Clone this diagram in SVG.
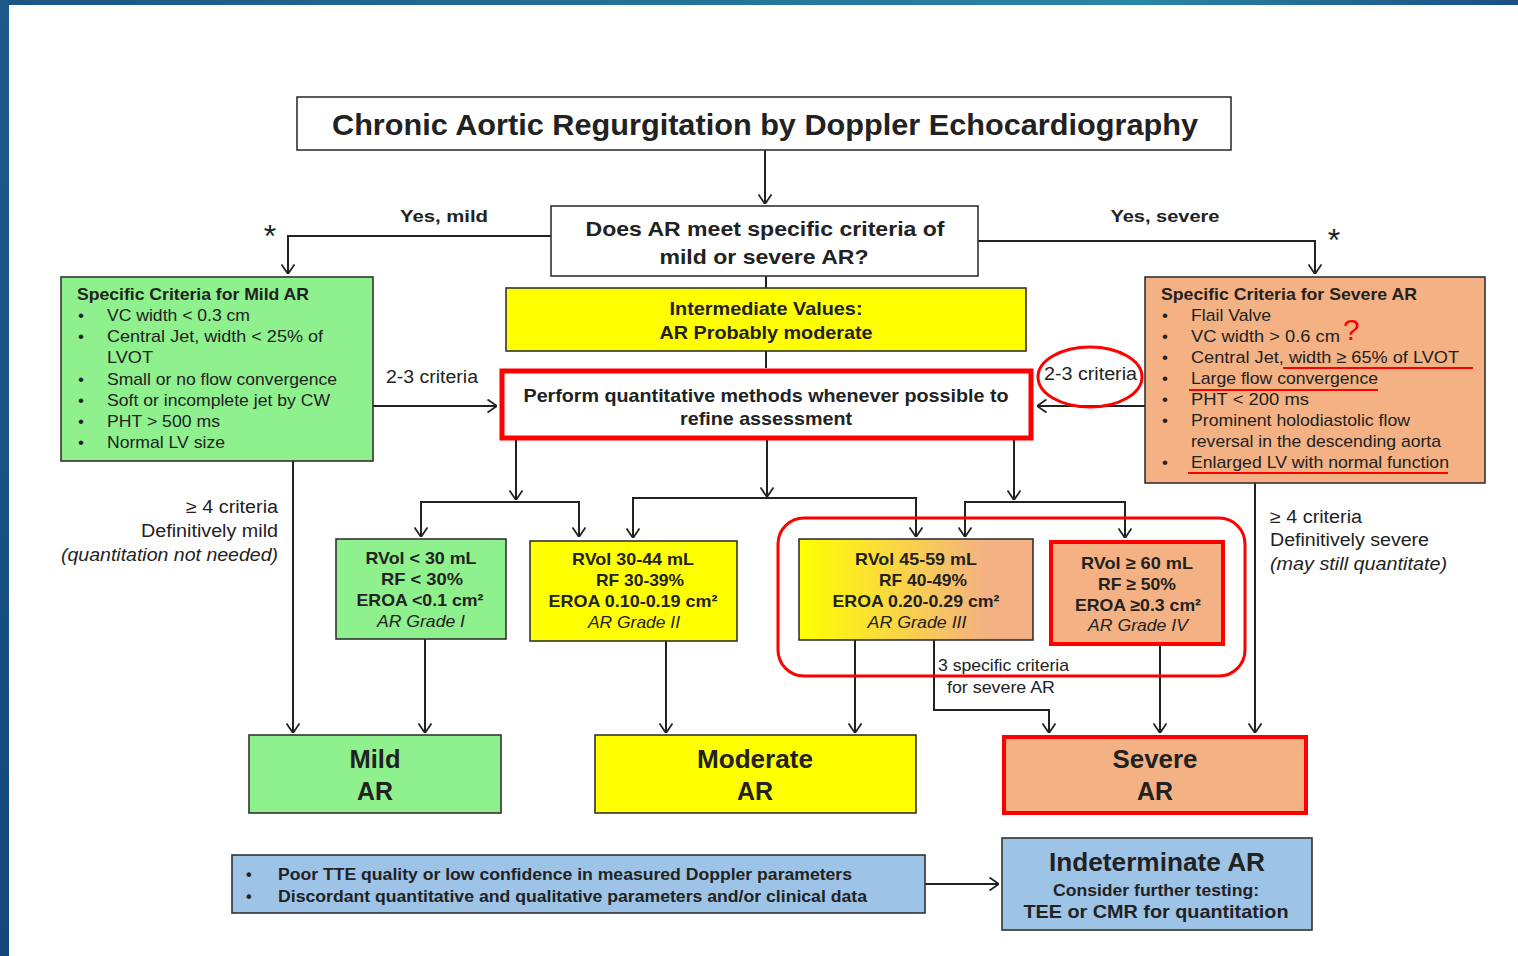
<svg xmlns="http://www.w3.org/2000/svg" width="1518" height="956" viewBox="0 0 1518 956">
<defs>
<linearGradient id="topbar" x1="0" y1="0" x2="1" y2="0">
<stop offset="0" stop-color="#1b5586"/><stop offset="0.75" stop-color="#2a86a6"/><stop offset="1" stop-color="#1a4f85"/>
</linearGradient>
<linearGradient id="leftbar" x1="0" y1="0" x2="0" y2="1">
<stop offset="0" stop-color="#1d5a8a"/><stop offset="1" stop-color="#15487e"/>
</linearGradient>
<linearGradient id="g3" x1="0" y1="0" x2="1" y2="0">
<stop offset="0" stop-color="#ffff00"/><stop offset="0.8" stop-color="#f4b183"/><stop offset="1" stop-color="#f4b183"/>
</linearGradient>
<marker id="ah" viewBox="0 0 10 14" refX="10" refY="7" markerWidth="10" markerHeight="14" orient="auto" markerUnits="userSpaceOnUse">
<path d="M0.5,0.5 L10,7 L0.5,13.5" fill="none" stroke="#222" stroke-width="1.8"/>
</marker>
<style>
text{font-family:"Liberation Sans",Arial,sans-serif;fill:#222}
.b{font-weight:bold}
.i{font-style:italic}
.box{stroke:#333;stroke-width:1.6}
.grn{fill:#8ff08e}
.yel{fill:#ffff00}
.org{fill:#f4b183}
.blu{fill:#9dc3e6}
.wht{fill:#ffffff}
.red{stroke:#ff0000;stroke-width:5}
.c{fill:none;stroke:#222;stroke-width:2}
.ul{fill:none;stroke:#ff0000;stroke-width:1.8}
.m{text-anchor:middle}
.e{text-anchor:end}
</style>
</defs>
<rect x="0" y="0" width="1518" height="956" fill="#ffffff"/>
<rect x="0" y="0" width="1518" height="5" fill="url(#topbar)"/>
<rect x="0" y="0" width="9" height="956" fill="url(#leftbar)"/>

<g id="connectors">
<path class="c" d="M765,150 V204" marker-end="url(#ah)"/>
<path class="c" d="M551,236 H288 V274" marker-end="url(#ah)"/>
<path class="c" d="M978,241 H1315 V274" marker-end="url(#ah)"/>
<path class="c" d="M766,276 V288"/>
<path class="c" d="M766,351 V368"/>
<path class="c" d="M373,406 H497" marker-end="url(#ah)"/>
<path class="c" d="M1145,406 H1037" marker-end="url(#ah)"/>
<path class="c" d="M516,440 V500" marker-end="url(#ah)"/>
<path class="c" d="M767,440 V497" marker-end="url(#ah)"/>
<path class="c" d="M1014,440 V500" marker-end="url(#ah)"/>
<path class="c" d="M500,502 H421 V537" marker-end="url(#ah)"/>
<path class="c" d="M421,502 H579 V537" marker-end="url(#ah)"/>
<path class="c" d="M700,498 H633 V538" marker-end="url(#ah)"/>
<path class="c" d="M633,498 H916 V537" marker-end="url(#ah)"/>
<path class="c" d="M1000,502 H965 V537" marker-end="url(#ah)"/>
<path class="c" d="M965,502 H1125 V538" marker-end="url(#ah)"/>
<path class="c" d="M293,461 V733" marker-end="url(#ah)"/>
<path class="c" d="M425,639 V733" marker-end="url(#ah)"/>
<path class="c" d="M666,641 V733" marker-end="url(#ah)"/>
<path class="c" d="M855,640 V733" marker-end="url(#ah)"/>
<path class="c" d="M934,640 V710 H1049 V733" marker-end="url(#ah)"/>
<path class="c" d="M1160,645 V733" marker-end="url(#ah)"/>
<path class="c" d="M1255,483 V733" marker-end="url(#ah)"/>
<path class="c" d="M925,884 H999" marker-end="url(#ah)"/>
</g>

<g id="title">
<rect class="box wht" x="297" y="97" width="934" height="53"/>
<text class="m" x="765" y="135" font-size="30" font-weight="600" textLength="866" lengthAdjust="spacingAndGlyphs">Chronic Aortic Regurgitation by Doppler Echocardiography</text>
</g>

<g id="question">
<rect class="box wht" x="551" y="206" width="427" height="70"/>
<text class="m b" x="765" y="236" font-size="21" textLength="359" lengthAdjust="spacingAndGlyphs">Does AR meet specific criteria of</text>
<text class="m b" x="764" y="264" font-size="21" textLength="209" lengthAdjust="spacingAndGlyphs">mild or severe AR?</text>
</g>

<g id="labels">
<text class="m b" x="444" y="222" font-size="17" textLength="88" lengthAdjust="spacingAndGlyphs">Yes, mild</text>
<text class="m b" x="1165" y="222" font-size="17" textLength="109" lengthAdjust="spacingAndGlyphs">Yes, severe</text>
<text class="m" x="270" y="247" font-size="32">*</text>
<text class="m" x="1334" y="251" font-size="32">*</text>
<text x="386" y="383" font-size="18" textLength="92" lengthAdjust="spacingAndGlyphs">2-3 criteria</text>
<text x="1044" y="380" font-size="18" textLength="93" lengthAdjust="spacingAndGlyphs">2-3 criteria</text>
<ellipse cx="1090" cy="377" rx="52" ry="30" fill="none" stroke="#ff0000" stroke-width="3"/>
<text class="e" x="278" y="513" font-size="18" textLength="92" lengthAdjust="spacingAndGlyphs">≥ 4 criteria</text>
<text class="e" x="278" y="537" font-size="18" textLength="137" lengthAdjust="spacingAndGlyphs">Definitively mild</text>
<text class="e i" x="278" y="561" font-size="18" textLength="217" lengthAdjust="spacingAndGlyphs">(quantitation not needed)</text>
<text x="1270" y="523" font-size="18" textLength="92" lengthAdjust="spacingAndGlyphs">≥ 4 criteria</text>
<text x="1270" y="546" font-size="18" textLength="159" lengthAdjust="spacingAndGlyphs">Definitively severe</text>
<text class="i" x="1270" y="570" font-size="18" textLength="177" lengthAdjust="spacingAndGlyphs">(may still quantitate)</text>
<text x="938" y="671" font-size="17" textLength="131" lengthAdjust="spacingAndGlyphs">3 specific criteria</text>
<text x="947" y="693" font-size="17" textLength="108" lengthAdjust="spacingAndGlyphs">for severe AR</text>
</g>

<g id="intermediate">
<rect class="box yel" x="506" y="288" width="520" height="63"/>
<text class="m b" x="766" y="315" font-size="19" textLength="193" lengthAdjust="spacingAndGlyphs">Intermediate Values:</text>
<text class="m b" x="766" y="339" font-size="19" textLength="213" lengthAdjust="spacingAndGlyphs">AR Probably moderate</text>
</g>

<g id="perform">
<rect class="wht red" x="502" y="371" width="529" height="67" stroke-width="6"/>
<text class="m b" x="766" y="402" font-size="19" textLength="485" lengthAdjust="spacingAndGlyphs">Perform quantitative methods whenever possible to</text>
<text class="m b" x="766" y="425" font-size="19" textLength="172" lengthAdjust="spacingAndGlyphs">refine assessment</text>
</g>

<g id="mild-criteria">
<rect class="box grn" x="61" y="277" width="312" height="184"/>
<text class="b" x="77" y="300" font-size="17" textLength="232" lengthAdjust="spacingAndGlyphs">Specific Criteria for Mild AR</text>
<g font-size="17">
<text x="78" y="321">•</text><text x="107" y="321" textLength="143" lengthAdjust="spacingAndGlyphs">VC width &lt; 0.3 cm</text>
<text x="78" y="342">•</text><text x="107" y="342" textLength="216" lengthAdjust="spacingAndGlyphs">Central Jet,  width &lt; 25% of</text>
<text x="107" y="363" textLength="46" lengthAdjust="spacingAndGlyphs">LVOT</text>
<text x="78" y="385">•</text><text x="107" y="385" textLength="230" lengthAdjust="spacingAndGlyphs">Small or no flow convergence</text>
<text x="78" y="406">•</text><text x="107" y="406" textLength="223" lengthAdjust="spacingAndGlyphs">Soft or incomplete jet by CW</text>
<text x="78" y="427">•</text><text x="107" y="427" textLength="113" lengthAdjust="spacingAndGlyphs">PHT &gt; 500 ms</text>
<text x="78" y="448">•</text><text x="107" y="448" textLength="118" lengthAdjust="spacingAndGlyphs">Normal LV size</text>
</g>
</g>

<g id="severe-criteria">
<rect class="box org" x="1145" y="277" width="340" height="206"/>
<text class="b" x="1161" y="300" font-size="17" textLength="256" lengthAdjust="spacingAndGlyphs">Specific Criteria for Severe AR</text>
<g font-size="17">
<text x="1162" y="321">•</text><text x="1191" y="321" textLength="80" lengthAdjust="spacingAndGlyphs">Flail Valve</text>
<text x="1162" y="342">•</text><text x="1191" y="342" textLength="149" lengthAdjust="spacingAndGlyphs">VC width  &gt; 0.6 cm</text>
<text x="1162" y="363">•</text><text x="1191" y="363" textLength="268" lengthAdjust="spacingAndGlyphs">Central Jet,  width ≥ 65% of LVOT</text>
<text x="1162" y="384">•</text><text x="1191" y="384" textLength="187" lengthAdjust="spacingAndGlyphs">Large flow convergence</text>
<text x="1162" y="405">•</text><text x="1191" y="405" textLength="118" lengthAdjust="spacingAndGlyphs">PHT  &lt; 200 ms</text>
<text x="1162" y="426">•</text><text x="1191" y="426" textLength="219" lengthAdjust="spacingAndGlyphs">Prominent holodiastolic flow</text>
<text x="1191" y="447" textLength="250" lengthAdjust="spacingAndGlyphs">reversal in the descending aorta</text>
<text x="1162" y="468">•</text><text x="1191" y="468" textLength="258" lengthAdjust="spacingAndGlyphs">Enlarged LV with normal function</text>
</g>
<text x="1343" y="340" font-size="30" style="fill:#ff0000">?</text>
<path class="ul" d="M1283,368 H1473"/>
<path class="ul" d="M1189,390 H1378"/>
<path class="ul" d="M1188,473 H1448"/>
</g>

<g id="grade1">
<rect class="box grn" x="336" y="539" width="170" height="100"/>
<g class="b" font-size="17">
<text class="m" x="421" y="564" textLength="111" lengthAdjust="spacingAndGlyphs">RVol &lt; 30 mL</text>
<text class="m" x="422" y="585" textLength="82" lengthAdjust="spacingAndGlyphs">RF &lt; 30%</text>
<text class="m" x="420" y="606" textLength="127" lengthAdjust="spacingAndGlyphs">EROA &lt;0.1 cm²</text>
</g>
<text class="m i" x="421" y="627" font-size="17" textLength="88" lengthAdjust="spacingAndGlyphs">AR Grade I</text>
</g>

<g id="grade2">
<rect class="box yel" x="530" y="541" width="207" height="100"/>
<g class="b" font-size="17">
<text class="m" x="633" y="565" textLength="122" lengthAdjust="spacingAndGlyphs">RVol 30-44 mL</text>
<text class="m" x="640" y="586" textLength="88" lengthAdjust="spacingAndGlyphs">RF 30-39%</text>
<text class="m" x="633" y="607" textLength="169" lengthAdjust="spacingAndGlyphs">EROA 0.10-0.19 cm²</text>
</g>
<text class="m i" x="634" y="628" font-size="17" textLength="92" lengthAdjust="spacingAndGlyphs">AR Grade II</text>
</g>

<rect x="778" y="518" width="467" height="158" rx="26" fill="none" stroke="#ff0000" stroke-width="3"/>

<g id="grade3">
<rect class="box" x="799" y="539" width="234" height="101" fill="url(#g3)"/>
<g class="b" font-size="17">
<text class="m" x="916" y="565" textLength="122" lengthAdjust="spacingAndGlyphs">RVol 45-59 mL</text>
<text class="m" x="923" y="586" textLength="88" lengthAdjust="spacingAndGlyphs">RF 40-49%</text>
<text class="m" x="916" y="607" textLength="167" lengthAdjust="spacingAndGlyphs">EROA 0.20-0.29 cm²</text>
</g>
<text class="m i" x="917" y="628" font-size="17" textLength="99" lengthAdjust="spacingAndGlyphs">AR Grade III</text>
</g>

<g id="grade4">
<rect class="org" x="1051" y="542" width="172" height="102" stroke="#ff0000" stroke-width="4"/>
<g class="b" font-size="17">
<text class="m" x="1137" y="569" textLength="112" lengthAdjust="spacingAndGlyphs">RVol ≥ 60 mL</text>
<text class="m" x="1137" y="590" textLength="78" lengthAdjust="spacingAndGlyphs">RF ≥ 50%</text>
<text class="m" x="1138" y="611" textLength="126" lengthAdjust="spacingAndGlyphs">EROA ≥0.3 cm²</text>
</g>
<text class="m i" x="1138" y="631" font-size="17" textLength="100" lengthAdjust="spacingAndGlyphs">AR Grade IV</text>
</g>

<g id="mild-ar">
<rect class="box grn" x="249" y="735" width="252" height="78"/>
<text class="m b" x="375" y="768" font-size="25" textLength="51" lengthAdjust="spacingAndGlyphs">Mild</text>
<text class="m b" x="375" y="800" font-size="25" textLength="36" lengthAdjust="spacingAndGlyphs">AR</text>
</g>

<g id="moderate-ar">
<rect class="box yel" x="595" y="735" width="321" height="78"/>
<text class="m b" x="755" y="768" font-size="25" textLength="116" lengthAdjust="spacingAndGlyphs">Moderate</text>
<text class="m b" x="755" y="800" font-size="25" textLength="36" lengthAdjust="spacingAndGlyphs">AR</text>
</g>

<g id="severe-ar">
<rect class="org" x="1004" y="737" width="302" height="76" stroke="#ff0000" stroke-width="4"/>
<text class="m b" x="1155" y="768" font-size="25" textLength="85" lengthAdjust="spacingAndGlyphs">Severe</text>
<text class="m b" x="1155" y="800" font-size="25" textLength="36" lengthAdjust="spacingAndGlyphs">AR</text>
</g>

<g id="quality">
<rect class="box blu" x="232" y="855" width="693" height="58"/>
<g class="b" font-size="16">
<text x="246" y="880">•</text><text x="278" y="880" textLength="574" lengthAdjust="spacingAndGlyphs">Poor TTE quality or low confidence in measured Doppler parameters</text>
<text x="246" y="902">•</text><text x="278" y="902" textLength="589" lengthAdjust="spacingAndGlyphs">Discordant quantitative and qualitative parameters and/or clinical data</text>
</g>
</g>

<g id="indeterminate">
<rect class="box blu" x="1002" y="838" width="310" height="92"/>
<text class="m b" x="1157" y="871" font-size="25" textLength="216" lengthAdjust="spacingAndGlyphs">Indeterminate AR</text>
<text class="m b" x="1156" y="896" font-size="17" textLength="206" lengthAdjust="spacingAndGlyphs">Consider further testing:</text>
<text class="m b" x="1156" y="918" font-size="19" textLength="265" lengthAdjust="spacingAndGlyphs">TEE or CMR for quantitation</text>
</g>
</svg>
